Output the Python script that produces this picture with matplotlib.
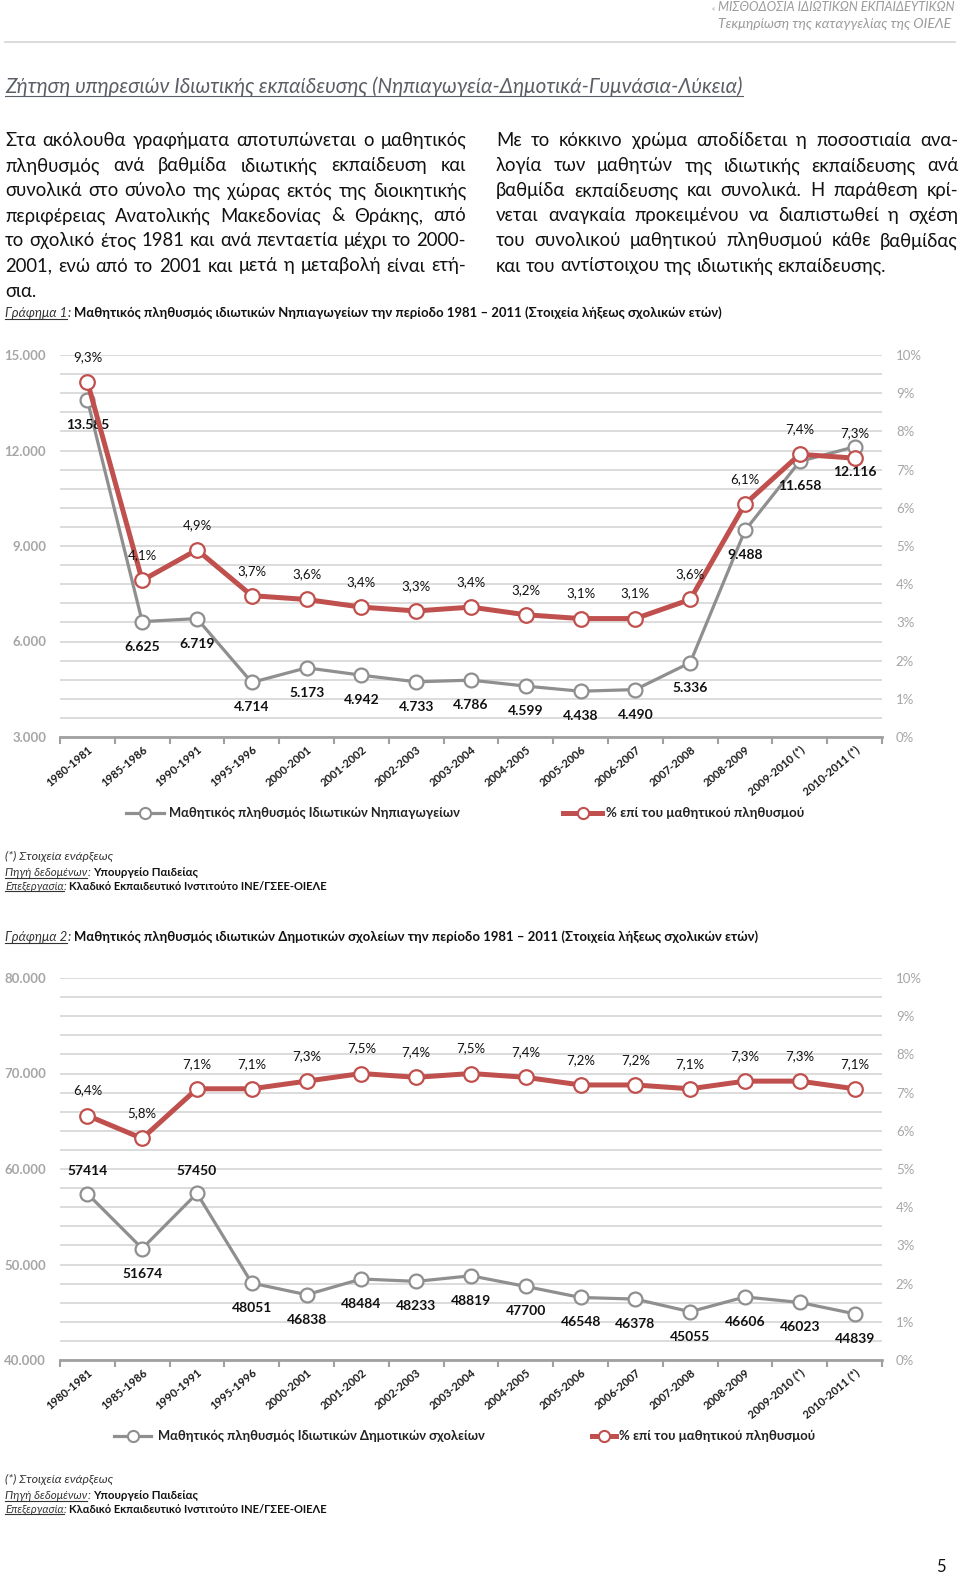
import numpy as np
import matplotlib
matplotlib.use('Agg')
import matplotlib.pyplot as plt
from matplotlib.lines import Line2D
from matplotlib import font_manager
from matplotlib.ft2font import FT2Font

# ---------------- data ----------------
categories = ['1980-1981', '1985-1986', '1990-1991', '1995-1996', '2000-2001',
              '2001-2002', '2002-2003', '2003-2004', '2004-2005', '2005-2006',
              '2006-2007', '2007-2008', '2008-2009', '2009-2010 (*)', '2010-2011 (*)']
kinder_students = [13585, 6625, 6719, 4714, 5173, 4942, 4733, 4786, 4599, 4438,
                   4490, 5336, 9488, 11658, 12116]
kinder_pct = [9.3, 4.1, 4.9, 3.7, 3.6, 3.4, 3.3, 3.4, 3.2, 3.1, 3.1, 3.6, 6.1, 7.4, 7.3]
primary_students = [57414, 51674, 57450, 48051, 46838, 48484, 48233, 48819, 47700,
                    46548, 46378, 45055, 46606, 46023, 44839]
primary_pct = [6.4, 5.8, 7.1, 7.1, 7.3, 7.5, 7.4, 7.5, 7.4, 7.2, 7.2, 7.1, 7.3, 7.3, 7.1]
primary_above = [0, 2]

left_par = [
    "Στα ακόλουθα γραφήματα αποτυπώνεται ο μαθητικός",
    "πληθυσμός ανά βαθμίδα ιδιωτικής εκπαίδευση και",
    "συνολικά στο σύνολο της χώρας εκτός της διοικητικής",
    "περιφέρειας Ανατολικής Μακεδονίας & Θράκης, από",
    "το σχολικό έτος 1981 και ανά πενταετία μέχρι το 2000-",
    "2001, ενώ από το 2001 και μετά η μεταβολή είναι ετή-",
    "σια.",
]
right_par = [
    "Με το κόκκινο χρώμα αποδίδεται η ποσοστιαία ανα-",
    "λογία των μαθητών της ιδιωτικής εκπαίδευσης ανά",
    "βαθμίδα εκπαίδευσης και συνολικά. Η παράθεση κρί-",
    "νεται αναγκαία προκειμένου να διαπιστωθεί η σχέση",
    "του συνολικού μαθητικού πληθυσμού κάθε βαθμίδας",
    "και του αντίστοιχου της ιδιωτικής εκπαίδευσης.",
]

W, H, DPI = 960, 1578, 100
GRAY = '#8f8f8f'
RED = '#c0504d'


def has_greek(family):
    try:
        path = font_manager.findfont(font_manager.FontProperties(family=family),
                                     fallback_to_default=False)
        cm = FT2Font(path).get_charmap()
        return 0x03B1 in cm and 0x0394 in cm and 0x03CE in cm
    except Exception:
        return False


BODY = 'Lato' if has_greek('Lato') else 'Open Sans'
FAM = [BODY, 'DejaVu Sans']
plt.rcParams['font.family'] = FAM

fig = plt.figure(figsize=(W / DPI, H / DPI), dpi=DPI)
fig.patch.set_facecolor('white')
R = fig.canvas.get_renderer()


def fx(x):
    return x / W


def fy(y):
    return 1 - y / H


def wpx(t):
    return t.get_window_extent(renderer=R).width


def fit_text(s, x0, x1, y, base=10, ha='left', va='center', **kw):
    t = fig.text(fx(x0 if ha == 'left' else x1), fy(y), s, fontsize=base, ha=ha, va=va, **kw)
    t.set_fontsize(base * (x1 - x0) / wpx(t))
    return t


def runs(segs, x0, x1, yb, base=10):
    """segs: (text, kwargs, underline, gap_before_em)"""
    ts = []
    for s, kw, ul, gap in segs:
        ts.append(fig.text(0, fy(yb), s, fontsize=base, ha='left', va='baseline', **kw))
    em = base * DPI / 72
    total = sum(wpx(t) for t in ts) + sum(g for *_, g in segs) * em
    scale = (x1 - x0) / total
    size = base * scale
    em = size * DPI / 72
    x = x0
    for t, (s, kw, ul, gap) in zip(ts, segs):
        t.set_fontsize(size)
        x += gap * em
        t.set_x(fx(x))
        w = wpx(t)
        if ul:
            fig.add_artist(Line2D([fx(x), fx(x + w)], [fy(yb + 0.13 * em)] * 2,
                                  color=kw.get('color', 'k'), lw=0.8,
                                  transform=fig.transFigure))
        x += w


# ---------------- header ----------------
fit_text("ΜΙΣΘΟΔΟΣΙΑ ΙΔΙΩΤΙΚΩΝ ΕΚΠΑΙΔΕΥΤΙΚΩΝ", 716, 955, 7, ha='right',
         style='italic', color='#9a9a9a')
fig.text(fx(715), fy(9), "«", fontsize=5, ha='right', va='center', color='#9a9a9a')
fit_text("Τεκμηρίωση της καταγγελίας της ΟΙΕΛΕ", 717, 951, 24, ha='right',
         style='italic', color='#9a9a9a')
fig.add_artist(Line2D([fx(5), fx(955)], [fy(42)] * 2, color='#d4d4d4', lw=1.2,
                      transform=fig.transFigure))

# title
runs([("Ζήτηση υπηρεσιών Ιδιωτικής εκπαίδευσης (Νηπιαγωγεία-Δημοτικά-Γυμνάσια-Λύκεια)",
       dict(style='italic', color='#5a5f66'), True, 0)], 5, 740, 93, base=13)

# ---------------- paragraphs ----------------
def natural(lines, size):
    ws = []
    for ln in lines:
        t = fig.text(0, 0, ln, fontsize=size)
        ws.append(wpx(t))
        t.remove()
    return ws


base = 14
nl = natural(left_par[:-1], base)
nr = natural(right_par[:-1], base)
psize = base * min(461 / max(nl), 462 / max(nr))


def paragraph(lines, x0, x1, yb0, dy, size):
    for i, line in enumerate(lines):
        yb = yb0 + i * dy
        words = line.split()
        ts = [fig.text(0, fy(yb), w, fontsize=size, color='#111111', va='baseline', ha='left')
              for w in words]
        ws = [wpx(t) for t in ts]
        if i < len(lines) - 1 and len(words) > 1:
            gap = (x1 - x0 - sum(ws)) / (len(words) - 1)
        else:
            gap = size * DPI / 72 * 0.25
        x = x0
        for t, w in zip(ts, ws):
            t.set_x(fx(x))
            x += w + gap


paragraph(left_par, 5, 466, 146, 25.1, psize)
paragraph(right_par, 496, 958, 146, 25.1, psize)


# ---------------- charts ----------------
def pct_label(v):
    return f"{v:.1f}".replace('.', ',') + '%'


def make_chart(top, bottom, students, pct, ylo, yhi, sep, above=()):
    left, right = 60, 882
    ax = fig.add_axes([fx(left), fy(bottom), (right - left) / W, (bottom - top) / H])
    x = np.arange(len(categories))
    ax.set_xlim(-0.5, len(categories) - 0.5)
    ax.set_ylim(ylo, yhi)
    step = (yhi - ylo) / 4
    major = np.arange(ylo, yhi + 1, step)
    ax.set_yticks(major, [f"{v:,.0f}".replace(',', '.') for v in major],
                  fontweight='bold', fontsize=9.5, color='#a6a6a6')
    ax.set_yticks(np.arange(ylo, yhi + 1, (yhi - ylo) / 20), minor=True)
    ax.grid(which='both', axis='y', color='#d9d9d9', lw=1.3)
    ax.set_axisbelow(True)
    ax.tick_params(axis='y', which='both', length=0, pad=10)
    for s in ['top', 'left', 'right']:
        ax.spines[s].set_visible(False)
    ax.spines['bottom'].set_color('#a0a0a0')
    ax.spines['bottom'].set_linewidth(2)
    ax.set_xticks(np.arange(-0.5, len(categories), 1))
    ax.set_xticklabels([])
    ax.tick_params(axis='x', which='major', length=5, width=1.5, color='#a0a0a0')
    ax.set_xticks(x, minor=True)
    ax.set_xticklabels(categories, minor=True, rotation=40, ha='right',
                       rotation_mode='anchor', fontsize=8, fontweight='bold',
                       color='#1a1a1a')
    ax.tick_params(axis='x', which='minor', length=0, pad=5)

    ax.plot(x, students, color=GRAY, lw=2.3, marker='o', ms=10, mfc='white',
            mec=GRAY, mew=1.6, zorder=3)
    for i, v in enumerate(students):
        txt = f"{v:,}".replace(',', '.') if sep else str(v)
        off = 16 if i in above else -18
        ax.annotate(txt, (x[i], v), xytext=(0, off), textcoords='offset points',
                    ha='center', va='center', fontsize=10, fontweight='bold',
                    color='#111111', zorder=4)

    ax2 = ax.twinx()
    ax2.set_ylim(0, 10)
    ax2.set_yticks(range(0, 11), [f"{i}%" for i in range(0, 11)],
                   fontsize=9.5, color='#a6a6a6')
    ax2.tick_params(axis='y', length=0, pad=10)
    for s in ax2.spines.values():
        s.set_visible(False)
    ax2.plot(x, pct, color=RED, lw=3.6, marker='o', ms=10.5, mfc='white', mec=RED,
             mew=1.6, zorder=3)
    for i, v in enumerate(pct):
        ax2.annotate(pct_label(v), (x[i], v), xytext=(0, 18), textcoords='offset points',
                     ha='center', va='center', fontsize=9.5, color='#111111')
    return ax, ax2


make_chart(355, 737, kinder_students, kinder_pct, 3000, 15000, True)
make_chart(978, 1360, primary_students, primary_pct, 40000, 80000, False, primary_above)


# ---------------- legends ----------------
def legend_item(x0, x1, y, color, lw, text, tx0, tx1):
    fig.add_artist(Line2D([fx(x0), fx(x1)], [fy(y)] * 2, color=color, lw=lw,
                          transform=fig.transFigure))
    fig.add_artist(Line2D([fx((x0 + x1) / 2)], [fy(y)], marker='o', ms=8, mfc='white',
                          mec=color, mew=1.5, transform=fig.transFigure))
    fit_text(text, tx0, tx1, y, base=9.5, fontweight='bold', color='#222222')


legend_item(126, 164, 813, GRAY, 2.3, "Μαθητικός πληθυσμός Ιδιωτικών Νηπιαγωγείων", 169, 463)
legend_item(563, 602, 813, RED, 3.6, "% επί του μαθητικού πληθυσμού", 606, 805)
legend_item(114, 151, 1436, GRAY, 2.3, "Μαθητικός πληθυσμός Ιδιωτικών Δημοτικών σχολείων", 158, 488)
legend_item(592, 616, 1436, RED, 3.6, "% επί του μαθητικού πληθυσμού", 619, 817)


# ---------------- captions & footnotes ----------------
IT = dict(style='italic', color='#333333')
BD = dict(fontweight='bold', color='#111111')

runs([("Γράφημα 1", IT, True, 0), (":", IT, False, 0),
      ("Μαθητικός πληθυσμός ιδιωτικών Νηπιαγωγείων την περίοδο 1981 – 2011 (Στοιχεία λήξεως σχολικών ετών)",
       BD, False, 0.25)], 5, 721, 317, base=10)
runs([("Γράφημα 2", IT, True, 0), (":", IT, False, 0),
      ("Μαθητικός πληθυσμός ιδιωτικών Δημοτικών σχολείων την περίοδο 1981 – 2011 (Στοιχεία λήξεως σχολικών ετών)",
       BD, False, 0.25)], 5, 757, 941, base=10)


def footnotes(y0):
    runs([("(*) Στοιχεία ενάρξεως", IT, False, 0)], 5, 113, y0 + 4, base=8)
    runs([("Πηγή δεδομένων", IT, True, 0), (":", IT, False, 0),
          ("Υπουργείο Παιδείας", BD, False, 0.25)], 5, 199, y0 + 20, base=8)
    runs([("Επεξεργασία", IT, True, 0), (":", IT, False, 0),
          ("Κλαδικό Εκπαιδευτικό Ινστιτούτο ΙΝΕ/ΓΣΕΕ-ΟΙΕΛΕ", BD, False, 0.25)],
         5, 328, y0 + 34, base=8)


footnotes(856)
footnotes(1479)

fig.text(fx(941), fy(1567), "5", fontsize=12, ha='center', va='center', color='#111111')

fig.savefig('out.png', dpi=DPI, facecolor='white')
